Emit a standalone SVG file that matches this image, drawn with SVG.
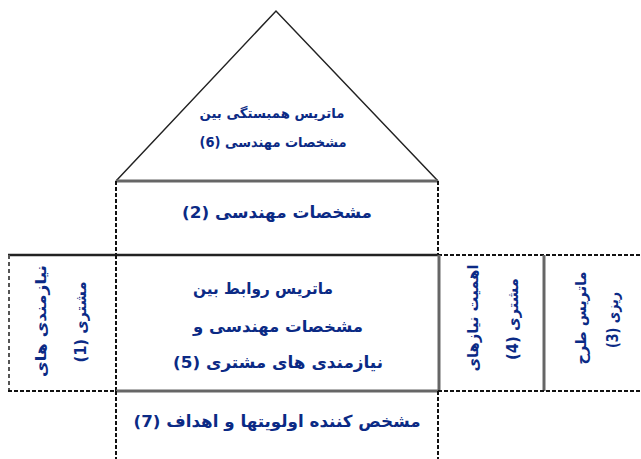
<svg xmlns="http://www.w3.org/2000/svg" width="641" height="459" viewBox="0 0 641 459">
<style>
.t{font-family:"DejaVu Sans",sans-serif;font-weight:bold;font-size:15px;fill:#0b2a85;text-anchor:middle;direction:rtl;unicode-bidi:embed}
.solid{stroke:#222;stroke-width:2.5;fill:none}
.gray{stroke:#666;stroke-width:3;fill:none}
.dash{stroke:#111;stroke-width:2;stroke-dasharray:4 2;fill:none}
.dashg{stroke:#555;stroke-width:2;stroke-dasharray:4 3;fill:none}
</style>
<rect width="641" height="459" fill="#fff"/>
<g id="roof">
<polyline points="116,181 276,11 438,181" fill="none" stroke="#222" stroke-width="1.5"/>
<text class="t" x="272" y="118" style="font-size:13.5px" textLength="145" lengthAdjust="spacingAndGlyphs">ماتریس همبستگی بین</text>
<text class="t" x="273" y="147" style="font-size:13.5px" textLength="147" lengthAdjust="spacingAndGlyphs">مشخصات مهندسی (6)</text>
</g>
<g id="eng-char">
<line class="gray" x1="116" y1="181" x2="438" y2="181"/>
<line class="dash" x1="116" y1="181" x2="116" y2="255"/>
<line class="dash" x1="438" y1="181" x2="438" y2="255"/>
<text class="t" x="277" y="218" style="font-size:16.5px" textLength="190" lengthAdjust="spacingAndGlyphs">مشخصات مهندسی (2)</text>
</g>
<g id="customer-req">
<line class="solid" x1="8" y1="255" x2="438" y2="255"/>
<line class="dashg" x1="9" y1="255" x2="9" y2="391"/>
<line class="dash" x1="116" y1="255" x2="116" y2="391"/>
<line class="dash" x1="8" y1="391" x2="116" y2="391"/>
<text class="t" transform="translate(46,321) rotate(-90)" textLength="112" lengthAdjust="spacingAndGlyphs">نیازمندی های</text>
<text class="t" transform="translate(86,322) rotate(-90)" textLength="81" lengthAdjust="spacingAndGlyphs">مشتری (1)</text>
</g>
<g id="relationship-matrix">
<line class="gray" x1="116" y1="391" x2="438" y2="391"/>
<text class="t" x="263" y="294" style="font-size:15.5px" textLength="140" lengthAdjust="spacingAndGlyphs">ماتریس روابط بین</text>
<text class="t" x="278" y="332" style="font-size:16px" textLength="170" lengthAdjust="spacingAndGlyphs">مشخصات مهندسی و</text>
<text class="t" x="278" y="368" style="font-size:16.5px" textLength="210" lengthAdjust="spacingAndGlyphs">نیازمندی های مشتری (5)</text>
</g>
<g id="importance">
<line class="dash" x1="438" y1="255" x2="641" y2="255"/>
<line class="gray" x1="439" y1="255" x2="439" y2="391"/>
<line class="gray" x1="544" y1="255" x2="544" y2="391"/>
<line class="dash" x1="438" y1="391" x2="641" y2="391"/>
<text class="t" transform="translate(478,318) rotate(-90)" textLength="107" lengthAdjust="spacingAndGlyphs">اهمیت نیازهای</text>
<text class="t" transform="translate(518,319) rotate(-90)" textLength="82" lengthAdjust="spacingAndGlyphs">مشتری (4)</text>
</g>
<g id="planning-matrix">
<text class="t" transform="translate(586,318) rotate(-90)" textLength="93" lengthAdjust="spacingAndGlyphs">ماتریس طرح</text>
<text class="t" transform="translate(618,320) rotate(-90)" textLength="56" lengthAdjust="spacingAndGlyphs">ریزی (3)</text>
</g>
<g id="targets">
<line class="dash" x1="116" y1="391" x2="116" y2="459"/>
<line class="dash" x1="438" y1="391" x2="438" y2="459"/>
<text class="t" x="277" y="427" style="font-size:16.5px" textLength="287" lengthAdjust="spacingAndGlyphs">مشخص کننده اولویتها و اهداف (7)</text>
</g>
<g id="connectors"/>
</svg>
